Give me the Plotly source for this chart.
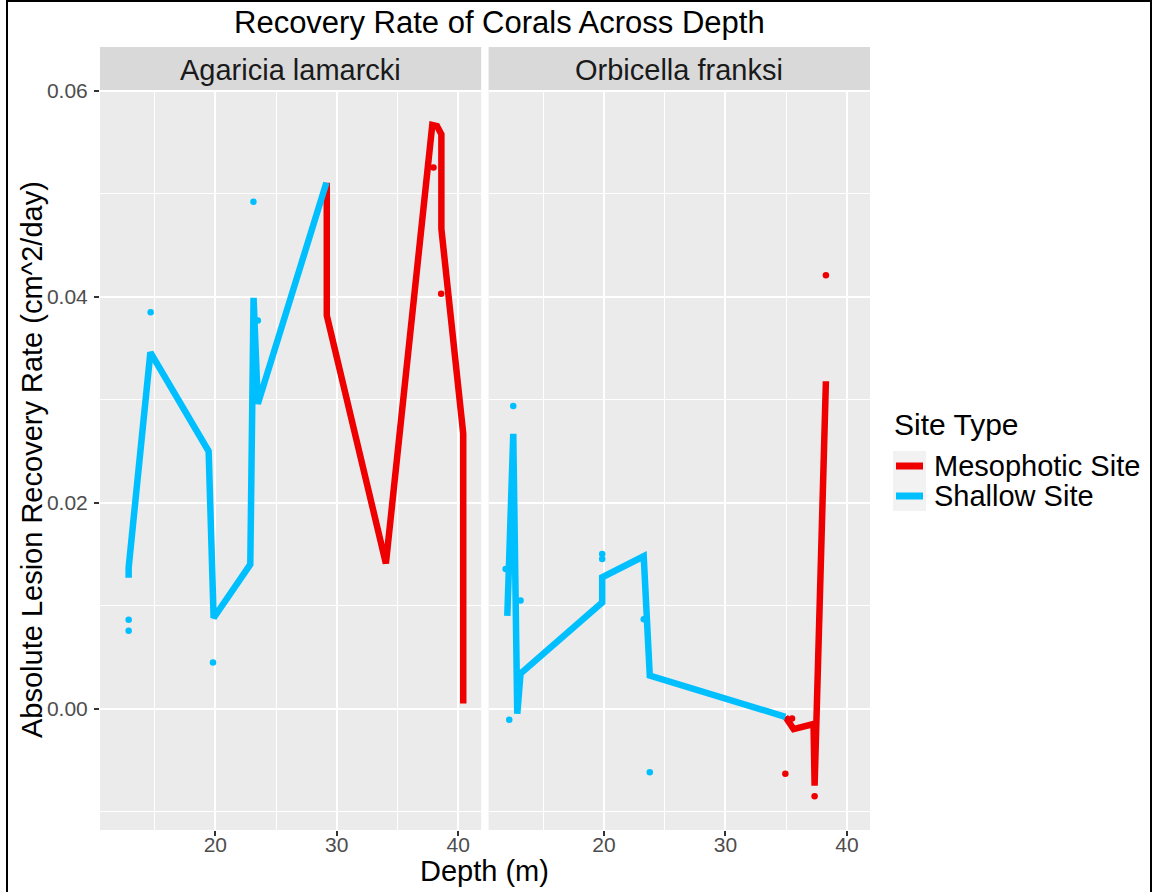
import plotly.graph_objects as go

# ---------------- data ----------------
species = ["Agaricia lamarcki", "Orbicella franksi"]
site_types = ["Mesophotic Site", "Shallow Site"]
site_colors = {"Mesophotic Site": "#EE0000", "Shallow Site": "#00BFFF"}

# Agaricia lamarcki - line (fitted) values
aga_shallow_line_depth = [12.86, 12.86, 14.65, 19.45, 19.86, 22.88, 23.15, 23.50, 29.15]
aga_shallow_line_rate = [0.0127, 0.0137, 0.0346, 0.0250, 0.0088, 0.0140, 0.0399, 0.0296, 0.0511]
aga_meso_line_depth = [29.18, 29.18, 34.05, 37.87, 38.26, 38.62, 38.62, 40.42, 40.42]
aga_meso_line_rate = [0.0511, 0.0382, 0.0141, 0.0567, 0.0566, 0.0558, 0.0466, 0.0267, 0.0005]

# Agaricia lamarcki - observed points
aga_shallow_pt_depth = [12.86, 12.86, 14.67, 19.81, 23.14, 23.50]
aga_shallow_pt_rate = [0.00864, 0.00757, 0.0385, 0.00447, 0.04925, 0.0377]
aga_meso_pt_depth = [37.97, 38.60]
aga_meso_pt_rate = [0.05256, 0.0403]

# Orbicella franksi - line (fitted) values
orb_shallow_line_depth = [12.04, 12.53, 12.86, 13.13, 19.85, 19.85, 23.27, 23.77, 34.93]
orb_shallow_line_rate = [0.0090, 0.0267, -0.0005, 0.0034, 0.0103, 0.01275, 0.0148, 0.0032, -0.0008]
orb_meso_line_depth = [34.93, 35.61, 37.25, 37.34, 38.27]
orb_meso_line_rate = [-0.0008, -0.0020, -0.0015, -0.0075, 0.0318]

# Orbicella franksi - observed points
orb_shallow_pt_depth = [11.90, 12.53, 13.13, 12.20, 19.85, 19.85, 23.27, 23.77]
orb_shallow_pt_rate = [0.01356, 0.02939, 0.01049, -0.0011, 0.01502, 0.01453, 0.00868, -0.0062]
orb_meso_pt_depth = [38.27, 35.48, 34.93, 37.34]
orb_meso_pt_rate = [0.04211, -0.00096, -0.00633, -0.00852]

x_ticks = [20, 30, 40]
y_ticks = [0.00, 0.02, 0.04, 0.06]
y_tick_labels = ["0.00", "0.02", "0.04", "0.06"]

title_text = "Recovery Rate of Corals Across Depth"
x_title = "Depth (m)"
y_title = "Absolute Lesion Recovery Rate (cm^2/day)"
legend_title = "Site Type"

# ---------------- figure ----------------
W, H = 1154, 892
ML, MR, MT, MB = 100, 284, 90, 62
PW = W - ML - MR
PH = H - MT - MB


def px_x(p):
    return (p - ML) / PW


def px_y(p):
    return 1 - (p - MT) / PH


FONT = "Liberation Sans, Arial, sans-serif"
BASE = 29
TICK = 21
fig = go.Figure()

panels = [
    ("x", "y", aga_meso_line_depth, aga_meso_line_rate, aga_shallow_line_depth, aga_shallow_line_rate,
     aga_meso_pt_depth, aga_meso_pt_rate, aga_shallow_pt_depth, aga_shallow_pt_rate),
    ("x2", "y2", orb_meso_line_depth, orb_meso_line_rate, orb_shallow_line_depth, orb_shallow_line_rate,
     orb_meso_pt_depth, orb_meso_pt_rate, orb_shallow_pt_depth, orb_shallow_pt_rate),
]

for xa, ya, mld, mlr, sld, slr, mpd, mpr, spd, spr in panels:
    for name, d, r in [("Mesophotic Site", mld, mlr), ("Shallow Site", sld, slr)]:
        fig.add_trace(go.Scatter(x=d, y=r, mode="lines", xaxis=xa, yaxis=ya,
                                 line=dict(color=site_colors[name], width=6.5),
                                 name=name, showlegend=False, hoverinfo="x+y"))
    for name, d, r in [("Mesophotic Site", mpd, mpr), ("Shallow Site", spd, spr)]:
        fig.add_trace(go.Scatter(x=d, y=r, mode="markers", xaxis=xa, yaxis=ya,
                                 marker=dict(color=site_colors[name], size=6.5, line=dict(width=0)),
                                 name=name, showlegend=False, hoverinfo="x+y"))

x_range = [10.5, 41.9]
y_range = [-0.0118, 0.0601]

gap_l = px_x(481.2)
gap_r = px_x(488.6)

xaxis_common = dict(range=x_range, tickvals=x_ticks, ticktext=[str(t) for t in x_ticks],
                    showgrid=True, gridcolor="white", gridwidth=2,
                    minor=dict(showgrid=True, gridcolor="white", gridwidth=1, dtick=5, tick0=0),
                    zeroline=False, showline=False, ticks="outside", ticklen=5, tickwidth=1.5,
                    tickcolor="#333333", tickfont=dict(family=FONT, size=TICK, color="#4D4D4D"),
                    ticklabelstandoff=-9, fixedrange=True)
yaxis_common = dict(range=y_range, tickvals=y_ticks, ticktext=y_tick_labels,
                    showgrid=True, gridcolor="white", gridwidth=2,
                    minor=dict(showgrid=True, gridcolor="white", gridwidth=1, dtick=0.01, tick0=0),
                    zeroline=False, showline=False, fixedrange=True)

fig.update_layout(
    width=W, height=H,
    margin=dict(l=ML, r=MR, t=MT, b=MB, pad=0),
    paper_bgcolor="white", plot_bgcolor="#EBEBEB",
    showlegend=False,
    font=dict(family=FONT, size=BASE, color="black"),
    xaxis=dict(domain=[0, gap_l], anchor="y", **xaxis_common),
    xaxis2=dict(domain=[gap_r, 1], anchor="y2", matches="x", **xaxis_common),
    yaxis=dict(domain=[0, 1], anchor="x", ticks="outside", ticklen=5, tickwidth=1.5,
               tickcolor="#333333", tickfont=dict(family=FONT, size=TICK, color="#4D4D4D"),
               ticklabelstandoff=2, **yaxis_common),
    yaxis2=dict(domain=[0, 1], anchor="x2", matches="y", showticklabels=False, ticks="",
                **yaxis_common),
)

shapes = []
annotations = []

# facet strips
strip_y0 = 1.0
strip_y1 = px_y(47)
for (x0, x1), label in zip([(0, gap_l), (gap_r, 1)], species):
    shapes.append(dict(type="rect", xref="paper", yref="paper", x0=x0, x1=x1,
                       y0=strip_y0, y1=strip_y1, fillcolor="#D9D9D9", line=dict(width=0)))
    annotations.append(dict(text=label, xref="paper", yref="paper", x=(x0 + x1) / 2,
                            y=px_y(70), xanchor="center", yanchor="middle",
                            showarrow=False, font=dict(family=FONT, size=BASE, color="#1A1A1A")))

# title
annotations.append(dict(text=title_text, xref="paper", yref="paper", x=px_x(499), y=px_y(23),
                        xanchor="center", yanchor="middle", showarrow=False,
                        font=dict(family=FONT, size=31, color="black")))
# axis titles
annotations.append(dict(text=x_title, xref="paper", yref="paper", x=px_x(484), y=px_y(871),
                        xanchor="center", yanchor="middle", showarrow=False,
                        font=dict(family=FONT, size=BASE, color="black")))
annotations.append(dict(text=y_title, xref="paper", yref="paper", x=px_x(32), y=px_y(460),
                        xanchor="center", yanchor="middle", textangle=-90, showarrow=False,
                        font=dict(family=FONT, size=BASE, color="black")))

# legend (manual, ggplot style)
annotations.append(dict(text=legend_title, xref="paper", yref="paper", x=px_x(892), y=px_y(425),
                        xanchor="left", yanchor="middle", showarrow=False,
                        font=dict(family=FONT, size=BASE + 1, color="black")))
key_tops = [451, 481]
for top, name in zip(key_tops, site_types):
    shapes.append(dict(type="rect", xref="paper", yref="paper", x0=px_x(893), x1=px_x(926),
                       y0=px_y(top + 30), y1=px_y(top), fillcolor="#F2F2F2", line=dict(width=0)))
    shapes.append(dict(type="line", xref="paper", yref="paper", x0=px_x(896), x1=px_x(923),
                       y0=px_y(top + 15), y1=px_y(top + 15),
                       line=dict(color=site_colors[name], width=7)))
    annotations.append(dict(text=name, xref="paper", yref="paper", x=px_x(932), y=px_y(top + 15),
                            xanchor="left", yanchor="middle", showarrow=False,
                            font=dict(family=FONT, size=BASE, color="black")))

# outer frame
shapes.append(dict(type="rect", xref="paper", yref="paper", x0=px_x(7), x1=px_x(1151),
                   y0=px_y(920), y1=px_y(1), line=dict(color="black", width=2),
                   fillcolor="rgba(0,0,0,0)"))

fig.update_layout(shapes=shapes, annotations=annotations)
fig.write_html("out.html")
